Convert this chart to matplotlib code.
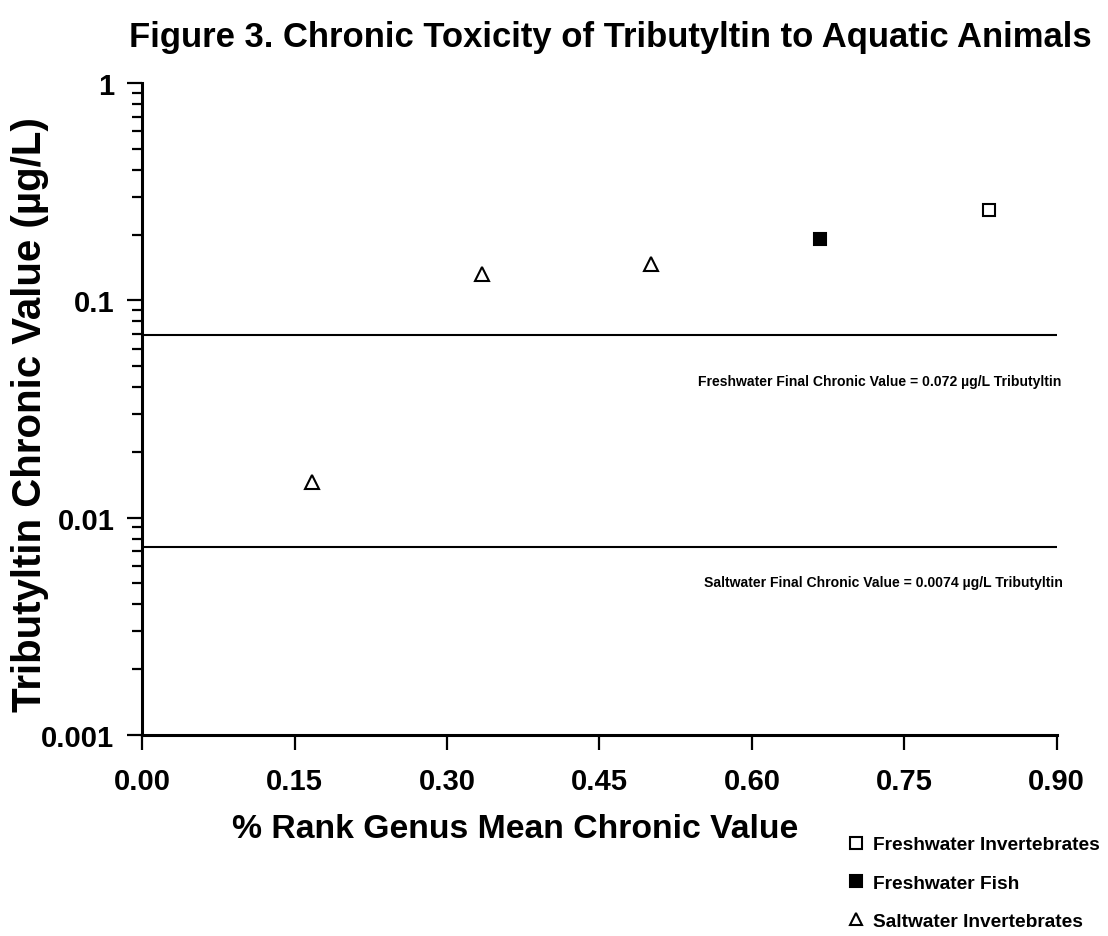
import matplotlib
matplotlib.use("Agg")
import matplotlib.pyplot as plt
from matplotlib import font_manager
from matplotlib.ticker import FixedLocator, FixedFormatter, LogLocator, NullFormatter
from matplotlib.lines import Line2D

# data
fw_invert_rank = [0.833]
fw_invert_val = [0.26]
fw_fish_rank = [0.667]
fw_fish_val = [0.192]
sw_invert_rank = [0.167, 0.334, 0.501]
sw_invert_val = [0.0146, 0.133, 0.1465]

fw_fcv_line = 0.069
sw_fcv_line = 0.0073

x_ticks = [0.00, 0.15, 0.30, 0.45, 0.60, 0.75, 0.90]
x_labels = ["0.00", "0.15", "0.30", "0.45", "0.60", "0.75", "0.90"]
y_ticks = [0.001, 0.01, 0.1, 1]
y_labels = ["0.001", "0.01", "0.1", "1"]

names = {f.name for f in font_manager.fontManager.ttflist}
base = "Liberation Sans" if "Liberation Sans" in names else "DejaVu Sans"
plt.rcParams['font.family'] = [base, 'DejaVu Sans']

fig = plt.figure(figsize=(11.08, 9.37), dpi=100)
ax = fig.add_axes([0.1284, 0.2149, 0.9537 - 0.1284, 0.91 - 0.2149])

ax.set_yscale('log')
ax.set_xlim(0, 0.9)
ax.set_ylim(0.001, 1)

ax.axhline(fw_fcv_line, color='black', lw=1.5)
ax.axhline(sw_fcv_line, color='black', lw=1.5)

ax.plot(fw_invert_rank, fw_invert_val, ls='none', marker='s', ms=9, mfc='white',
        mec='black', mew=1.5, clip_on=False)
ax.plot(fw_fish_rank, fw_fish_val, ls='none', marker='s', ms=9, mfc='black',
        mec='black', mew=1.5, clip_on=False)
ax.plot(sw_invert_rank, sw_invert_val, ls='none', marker='^', ms=10, mfc='white',
        mec='black', mew=1.5, clip_on=False)

for s in ['top', 'right']:
    ax.spines[s].set_visible(False)
for s in ['left', 'bottom']:
    ax.spines[s].set_linewidth(2.2)

ax.xaxis.set_major_locator(FixedLocator(x_ticks))
ax.xaxis.set_major_formatter(FixedFormatter(x_labels))
ax.yaxis.set_major_locator(FixedLocator(y_ticks))
ax.yaxis.set_major_formatter(FixedFormatter(y_labels))
ax.yaxis.set_minor_locator(LogLocator(base=10, subs=range(2, 10)))
ax.yaxis.set_minor_formatter(NullFormatter())

ax.tick_params(axis='both', which='major', direction='out', length=11, width=1.6,
               labelsize=21, pad=9)
ax.tick_params(axis='y', which='minor', direction='out', length=7, width=1.6)
ax.tick_params(axis='x', pad=12)
for lab in ax.get_xticklabels() + ax.get_yticklabels():
    lab.set_fontweight('bold')

ax.text(0.726, 0.0427, "Freshwater Final Chronic Value = 0.072 \u00b5g/L Tributyltin",
        fontweight='bold', fontsize=10.1, ha='center', va='center')
ax.text(0.729, 0.00506, "Saltwater Final Chronic Value = 0.0074 \u00b5g/L Tributyltin",
        fontweight='bold', fontsize=10.1, ha='center', va='center')

fig.text(0.551, 0.960, "Figure 3. Chronic Toxicity of Tributyltin to Aquatic Animals",
         fontweight='bold', fontsize=24.9, ha='center', va='center')
fig.text(0.027, 0.558, "Tributyltin Chronic Value (\u00b5g/L)", fontweight='bold',
         fontsize=29, rotation=90, ha='center', va='center')
fig.text(0.465, 0.115, "% Rank Genus Mean Chronic Value",
         fontweight='bold', fontsize=24.3, ha='center', va='center')

handles = [
    Line2D([], [], ls='none', marker='s', ms=8, mfc='white', mec='black', mew=1.5),
    Line2D([], [], ls='none', marker='s', ms=8, mfc='black', mec='black', mew=1.5),
    Line2D([], [], ls='none', marker='^', ms=8, mfc='white', mec='black', mew=1.5),
]
labels = ["Freshwater Invertebrates", "Freshwater Fish", "Saltwater Invertebrates"]
leg = fig.legend(handles, labels, loc='upper left', bbox_to_anchor=(848 / 1108, 1 - 837 / 937),
                 frameon=False, handlelength=0.8, handletextpad=0.5, borderpad=0,
                 borderaxespad=0, labelspacing=1.1, prop={'weight': 'bold', 'size': 13.75})

fig.savefig("out.png", dpi=100)
